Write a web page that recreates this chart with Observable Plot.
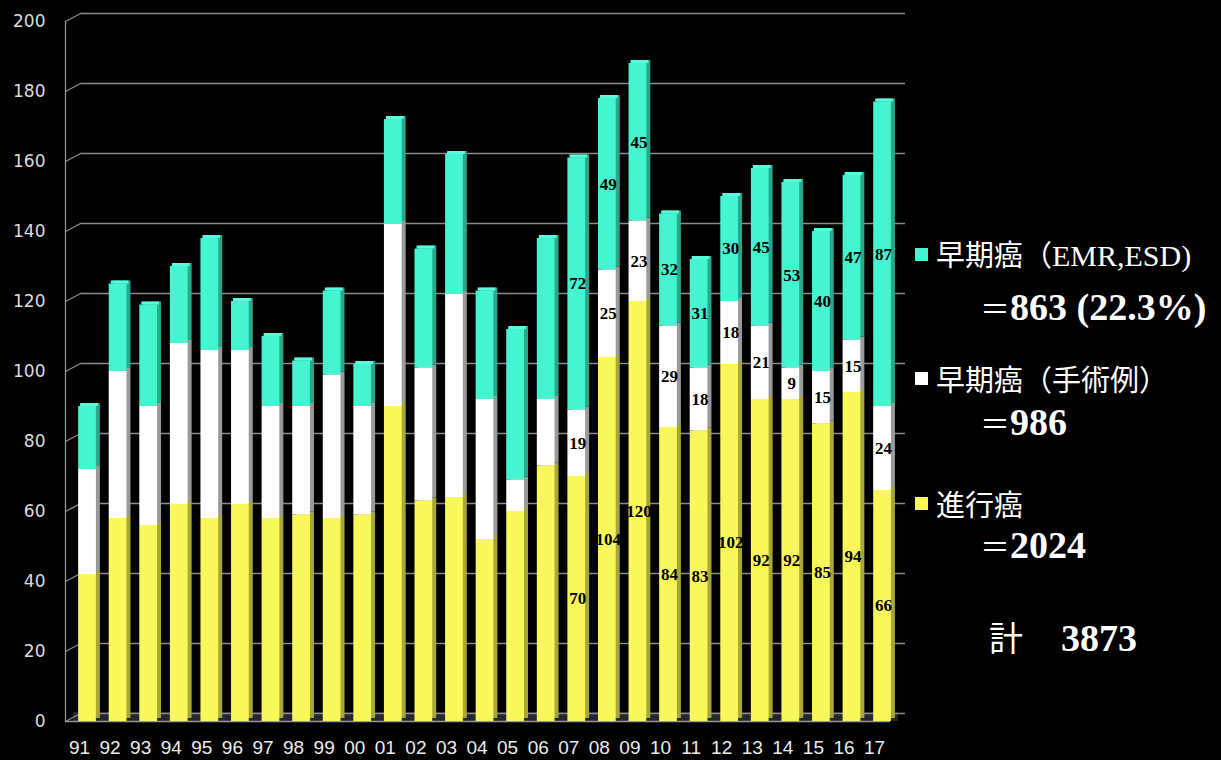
<!DOCTYPE html>
<html>
<head>
<meta charset="utf-8">
<script src="https://cdn.jsdelivr.net/npm/d3@7"></script>
<script src="https://cdn.jsdelivr.net/npm/@observablehq/plot@0.6"></script>
<style>
  html, body { margin: 0; padding: 0; background: #000; }
  #wrap { position: relative; width: 1221px; height: 760px; overflow: hidden; background: #000; }
  .lg { position: absolute; color: #fff; white-space: nowrap; transform: translateY(-50%); line-height: 1; }
  .sq { position: absolute; width: 13px; height: 13px; }
  .jp { font-family: "Noto Sans CJK JP", sans-serif; font-size: 29px; }
  .jp .lat { font-family: "Liberation Serif", serif; font-size: 30px; }
  .num { font-family: "Liberation Serif", serif; font-weight: bold; font-size: 38px; }
  .num .eq { font-family: "Noto Sans CJK JP", sans-serif; font-weight: normal; font-size: 30px; }
</style>
</head>
<body>
<div id="wrap"></div>
<script>
// ---- data ----
const years = ["91","92","93","94","95","96","97","98","99","00","01","02","03","04","05","06","07","08","09","10","11","12","13","14","15","16","17"];
const advanced = [42,58,56,62,58,62,58,59,58,59,90,63,64,52,60,73,70,104,120,84,83,102,92,92,85,94,66];      // 進行癌
const earlySurgery = [30,42,34,46,48,44,32,31,41,31,52,38,58,40,9,19,19,25,23,29,18,18,21,9,15,15,24];     // 早期癌（手術例）
const earlyEndo = [18,25,29,22,32,14,20,13,24,12,30,34,40,31,43,46,72,49,45,32,31,30,45,53,40,47,87];      // 早期癌（EMR,ESD)
const labelFrom = 16; // value labels drawn from 07 onward
const yTicks = [0,20,40,60,80,100,120,140,160,180,200];

const seriesNames = ["進行癌", "早期癌（手術例）", "早期癌（EMR,ESD)"];
const seriesValues = [advanced, earlySurgery, earlyEndo];
const frontColor = {"進行癌": "#f8f85a", "早期癌（手術例）": "#ffffff", "早期癌（EMR,ESD)": "#44f5d0"};
const sideColor = {"進行癌": "#a8a838", "早期癌（手術例）": "#9a9a9a", "早期癌（EMR,ESD)": "#2aa88c"};

const rows = [];
years.forEach((yr, i) => {
  let base = 0;
  seriesNames.forEach((s, k) => {
    const v = seriesValues[k][i];
    rows.push({i, year: yr, series: s, value: v, y1: base, y2: base + v, top: k === seriesNames.length - 1});
    base += v;
  });
});

const xa = -0.72, xb = 26.26;
const hw = 0.29;

const noHead = {draw(context, l) { context.moveTo(0, 0); context.lineTo(0, -l); }};

const plot = Plot.plot({
  width: 1221,
  height: 760,
  marginLeft: 65,
  marginRight: 331,
  marginTop: 21,
  marginBottom: 39,
  style: {background: "#000", overflow: "visible"},
  x: {domain: [xa, xb], axis: null},
  y: {domain: [0, 200], axis: null},
  marks: [
    // floor
    Plot.rect([0], {x1: xa, x2: xb, y1: 0, y2: 0, insetTop: -9, dx: 8, fill: "#262630"}),
    // back wall grid lines
    Plot.ruleY(yTicks, {x1: xa, x2: xb, dx: 15, dy: -8, stroke: "#8c8c8c", strokeWidth: 1.5}),
    // side wall diagonals
    Plot.vector(yTicks, {x: xa, y: d => d, length: 17, rotate: 62, anchor: "start", shape: noHead, stroke: "#8c8c8c", strokeWidth: 1.3}),
    // front floor line
    Plot.ruleY([0], {x1: xa, x2: xb, stroke: "#9a9a9a", strokeWidth: 1.5}),
    // front vertical axis line
    Plot.ruleX([xa], {y1: 0, y2: 200, stroke: "#9a9a9a", strokeWidth: 1.2}),
    // bar side/depth
    Plot.rect(rows, {x1: d => d.i - hw, x2: d => d.i + hw, y1: "y1", y2: "y2", dx: 4, dy: -3, fill: d => sideColor[d.series]}),
    // bar top caps
    Plot.rect(rows.filter(d => d.top), {x1: d => d.i - hw, x2: d => d.i + hw, y1: "y2", y2: "y2", insetTop: -3, dx: 2, fill: "#5cfadc"}),
    // bar fronts
    Plot.rect(rows, {x1: d => d.i - hw, x2: d => d.i + hw, y1: "y1", y2: "y2", fill: d => frontColor[d.series]}),
    // value labels
    Plot.text(rows.filter(d => d.i >= labelFrom), {x: "i", y: d => (d.y1 + d.y2) / 2, text: d => String(d.value), fill: "#000", fontSize: 17, fontWeight: "bold", fontFamily: "Liberation Serif, serif", dx: 1}),
    // y axis labels
    Plot.axisY(yTicks, {x: xa, tickSize: 0, tickPadding: 20, fontSize: 17, fill: "#dcdcdc", fontFamily: "DejaVu Sans, sans-serif", anchor: "left", label: null}),
    // x axis labels
    Plot.axisX(d3.range(years.length), {tickSize: 0, tickPadding: 19, tickFormat: i => years[i], fontSize: 19, fill: "#ececec", fontFamily: "Liberation Sans, sans-serif", dx: -8, label: null})
  ]
});

const wrap = document.getElementById("wrap");
wrap.appendChild(plot);

// legend (to the right of the plot)
const legendHTML = `
  <div class="sq" style="left:915px;top:248px;background:#44f5d0"></div>
  <div class="lg jp" style="left:936px;top:255px">早期癌（<span class="lat">EMR,ESD)</span></div>
  <div class="lg num" style="left:980px;top:307px"><span class="eq">＝</span>863 (22.3%)</div>
  <div class="sq" style="left:915px;top:372px;background:#ffffff"></div>
  <div class="lg jp" style="left:936px;top:378px">早期癌（手術例）</div>
  <div class="lg num" style="left:980px;top:422px"><span class="eq">＝</span>986</div>
  <div class="sq" style="left:915px;top:497px;background:#f8f85a"></div>
  <div class="lg jp" style="left:936px;top:503px">進行癌</div>
  <div class="lg num" style="left:980px;top:545px"><span class="eq">＝</span>2024</div>
  <div class="lg num" style="left:989px;top:638px"><span class="eq" style="font-size:34px">計</span>　3873</div>
`;
const lg = document.createElement("div");
lg.innerHTML = legendHTML;
wrap.appendChild(lg);
</script>
</body>
</html>
